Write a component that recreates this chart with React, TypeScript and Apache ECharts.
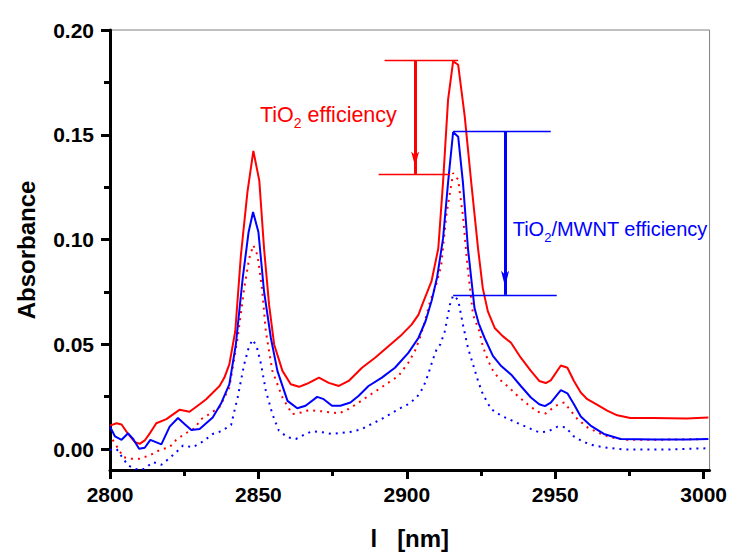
import React, { useEffect, useRef } from 'react';
import * as echarts from 'echarts';

const xMajorTicks = [2800, 2850, 2900, 2950, 3000];
const xMinorTicks = [2825, 2875, 2925, 2975];
const yMajorTicks = [0, 0.05, 0.1, 0.15, 0.2];
const yMinorTicks = [0.025, 0.075, 0.125, 0.175];

const redSolid: [number, number][] = [
  [2800.0, 0.0112], [2802.2, 0.0123], [2803.9, 0.0117], [2806.1, 0.0072], [2808.4, 0.0033],
  [2810.0, 0.0025], [2811.7, 0.0041], [2813.4, 0.0075], [2815.6, 0.0123], [2819.0, 0.0143],
  [2823.5, 0.0188], [2826.8, 0.0178], [2830.2, 0.0214], [2832.4, 0.0238], [2836.9, 0.0301],
  [2838.5, 0.034], [2840.2, 0.0404], [2842.2, 0.0562], [2844.1, 0.0925], [2846.3, 0.1226],
  [2848.3, 0.1423], [2850.3, 0.1281], [2851.9, 0.0957], [2853.6, 0.0688], [2855.3, 0.0499],
  [2858.1, 0.0373], [2860.9, 0.0309], [2863.7, 0.0297], [2865.9, 0.0309], [2867.0, 0.0316],
  [2870.4, 0.0341], [2873.7, 0.0316], [2877.1, 0.0301], [2880.4, 0.0325], [2884.9, 0.0388],
  [2889.3, 0.0436], [2893.8, 0.0491], [2898.3, 0.0546], [2901.6, 0.0594], [2903.9, 0.0640],
  [2905.5, 0.0700], [2908.3, 0.0800], [2910.6, 0.0957], [2912.2, 0.1273], [2913.9, 0.1668],
  [2915.6, 0.185], [2917.3, 0.1834], [2919.5, 0.1589], [2921.7, 0.1273], [2924.0, 0.0957],
  [2925.6, 0.0767], [2927.3, 0.0657], [2929.6, 0.0578], [2932.3, 0.0539], [2935.1, 0.0507],
  [2938.4, 0.0436], [2941.8, 0.0373], [2944.6, 0.0325], [2946.8, 0.0315], [2948.5, 0.0328],
  [2951.9, 0.0399], [2954.1, 0.0388], [2956.3, 0.0325], [2958.6, 0.027], [2960.8, 0.0238],
  [2964.2, 0.0211], [2967.5, 0.0183], [2970.9, 0.0161], [2975.3, 0.0148], [2983.0, 0.0148],
  [2994.3, 0.0146], [3001.6, 0.0151],
];

const blueSolid: [number, number][] = [
  [2800.0, 0.0107], [2801.7, 0.006], [2803.9, 0.0044], [2806.1, 0.0075], [2807.8, 0.0048],
  [2809.8, 0.0001], [2811.7, 0.0006], [2813.6, 0.0044], [2817.3, 0.0022], [2820.1, 0.0107],
  [2822.9, 0.0148], [2825.1, 0.012], [2827.4, 0.0091], [2830.2, 0.0096], [2834.6, 0.0151],
  [2837.5, 0.022], [2840.2, 0.0309], [2842.4, 0.0499], [2844.7, 0.0815], [2846.7, 0.1036],
  [2848.2, 0.1131], [2850.0, 0.1036], [2851.9, 0.0752], [2854.2, 0.053], [2856.4, 0.0373],
  [2859.8, 0.023], [2863.1, 0.0195], [2865.9, 0.0207], [2869.8, 0.0249], [2872.0, 0.0238],
  [2874.8, 0.0207], [2877.6, 0.0207], [2881.0, 0.0222], [2883.8, 0.0254], [2887.1, 0.0301],
  [2891.6, 0.0341], [2896.0, 0.0388], [2900.5, 0.0459], [2903.9, 0.053], [2906.3, 0.061],
  [2908.4, 0.071], [2910.2, 0.082], [2912.2, 0.1004], [2913.9, 0.1273], [2915.6, 0.1513],
  [2917.3, 0.1491], [2918.9, 0.1273], [2920.6, 0.0957], [2922.8, 0.0673], [2924.2, 0.06],
  [2926.2, 0.053], [2929.0, 0.0445], [2931.8, 0.0396], [2935.1, 0.0356], [2938.4, 0.0301],
  [2941.8, 0.0246], [2944.6, 0.0214], [2946.5, 0.0205], [2948.5, 0.0222], [2951.9, 0.0281],
  [2954.1, 0.0266], [2956.3, 0.0214], [2958.6, 0.0155], [2961.9, 0.0112], [2966.4, 0.0072],
  [2972.0, 0.0048], [2983.2, 0.0045], [2994.3, 0.0045], [3001.6, 0.0048],
];

const redDotted: [number, number][] = [
  [2800.9, 0.0044], [2802.8, 0.0001], [2804.5, -0.0038], [2806.7, -0.0046], [2810.0, -0.0046],
  [2813.4, -0.003], [2816.8, -0.0004], [2820.1, 0.0009], [2822.3, 0.0044], [2825.1, 0.0072],
  [2828.5, 0.0099], [2830.7, 0.0143], [2833.5, 0.0167], [2836.9, 0.02], [2840.2, 0.0293],
  [2843.0, 0.053], [2845.2, 0.0767], [2846.9, 0.091], [2848.3, 0.0973], [2849.7, 0.0925],
  [2851.2, 0.0767], [2852.5, 0.0562], [2854.7, 0.0373], [2858.1, 0.0246], [2861.4, 0.0167],
  [2864.8, 0.0175], [2867.0, 0.0186], [2871.5, 0.018], [2877.1, 0.017], [2880.4, 0.0191],
  [2883.8, 0.0222], [2887.1, 0.0254], [2890.5, 0.0285], [2893.8, 0.0317], [2897.2, 0.0349],
  [2900.5, 0.0412], [2902.7, 0.0467], [2904.4, 0.053], [2906.1, 0.061], [2907.8, 0.0704],
  [2910.0, 0.079], [2911.6, 0.0878], [2913.3, 0.1115], [2915.6, 0.1317], [2917.3, 0.1286],
  [2918.9, 0.1115], [2920.4, 0.0878], [2922.3, 0.0641], [2924.5, 0.056], [2925.6, 0.049],
  [2927.3, 0.0425], [2929.0, 0.0375], [2931.2, 0.0333], [2934.5, 0.0293], [2937.3, 0.0254],
  [2940.7, 0.0214], [2944.0, 0.0178], [2946.8, 0.017], [2950.2, 0.0207], [2953.0, 0.0222],
  [2955.2, 0.0183], [2957.5, 0.0143], [2960.8, 0.0104], [2964.2, 0.008], [2968.6, 0.0056],
  [2974.2, 0.0044], [2983.0, 0.0044], [3001.6, 0.0048],
];

const blueDotted: [number, number][] = [
  [2800.0, -0.0004], [2802.2, 0.0001], [2803.9, -0.0035], [2806.1, -0.0078], [2808.6, -0.0096],
  [2811.5, -0.0095], [2814.5, -0.0062], [2817.3, -0.0075], [2820.1, -0.0043], [2822.9, -0.0007],
  [2824.6, 0.0017], [2827.9, 0.0009], [2831.3, 0.0036], [2834.6, 0.0072], [2837.4, 0.0085],
  [2840.8, 0.0115], [2843.0, 0.0246], [2845.2, 0.0404], [2846.7, 0.0483], [2848.0, 0.0522],
  [2849.4, 0.0491], [2850.9, 0.0404], [2852.5, 0.0278], [2854.7, 0.0167], [2856.9, 0.0088],
  [2859.8, 0.0056], [2862.6, 0.0048], [2865.9, 0.0072], [2868.1, 0.0085], [2871.5, 0.008],
  [2874.8, 0.0072], [2878.2, 0.0077], [2881.6, 0.0083], [2884.9, 0.0096], [2888.2, 0.012],
  [2891.0, 0.014], [2894.4, 0.0167], [2897.2, 0.0191], [2900.5, 0.0214], [2903.3, 0.0246],
  [2905.5, 0.0293], [2907.2, 0.0357], [2908.8, 0.0428], [2910.0, 0.0475], [2911.3, 0.05],
  [2912.8, 0.0562], [2914.5, 0.0688], [2915.6, 0.0733], [2917.3, 0.0712], [2918.9, 0.0594],
  [2920.6, 0.0483], [2922.3, 0.0404], [2924.0, 0.0325], [2925.6, 0.0262], [2928.4, 0.0191],
  [2931.8, 0.0159], [2935.1, 0.0138], [2938.4, 0.0117], [2941.8, 0.0096], [2944.6, 0.008],
  [2947.4, 0.0083], [2950.8, 0.0107], [2953.5, 0.0104], [2956.3, 0.006], [2959.7, 0.0033],
  [2963.0, 0.0017], [2967.5, 0.0006], [2973.1, -0.0002], [2989.0, -0.0002], [3001.6, 0.0004],
];

// annotation: [x, yTop, yBottom] and horizontal lines [xFrom, xTo, y]
const redArrow = [2902.8, 0.1854, 0.1313];
const redTopLine = [2892.5, 2917.3, 0.1854];
const redBottomLine = [2890.5, 2914.6, 0.1313];
const blueArrow = [2933.1, 0.1515, 0.0736];
const blueTopLine = [2915.6, 2948.5, 0.1515];
const blueBottomLine = [2915.6, 2950.5, 0.0736];

const FONT = '"Liberation Sans", Arial, Helvetica, sans-serif';
const RED = '#ff0000';
const BLUE = '#0000ff';

function measure(text: string, font: string, fallback: number): number {
  try {
    const c = document.createElement('canvas');
    const ctx = c.getContext('2d');
    if (!ctx) return fallback;
    ctx.font = font;
    return ctx.measureText(text).width;
  } catch (e) {
    return fallback;
  }
}

function subLabel(x: number, mainY: number, subY: number, size: number, subSize: number, rest: string, color: string) {
  const mainFont = `${size}px ${FONT}`;
  const subFont = `${subSize}px ${FONT}`;
  const w1 = measure('TiO', mainFont, 1.611 * size);
  const w2 = measure('2', subFont, 0.556 * subSize);
  return [
    { type: 'text', x, y: mainY, silent: true, style: { text: 'TiO', font: mainFont, fill: color, verticalAlign: 'middle', align: 'left' } },
    { type: 'text', x: x + w1, y: subY, silent: true, style: { text: '2', font: subFont, fill: color, verticalAlign: 'middle', align: 'left' } },
    { type: 'text', x: x + w1 + w2, y: mainY, silent: true, style: { text: rest, font: mainFont, fill: color, verticalAlign: 'middle', align: 'left' } },
  ];
}

export default function App() {
  const ref = useRef<HTMLDivElement>(null);

  useEffect(() => {
    document.body.style.margin = '0';
    if (!ref.current) return;
    const chart = echarts.init(ref.current, undefined, { renderer: 'svg' });

    const axisTextStyle = { fontSize: 21, fontWeight: 'bold', color: '#000', fontFamily: FONT };
    const nameStyle = { fontSize: 24, fontWeight: 'bold', color: '#000', fontFamily: FONT };

    const hLine = (l: number[]) => [
      { coord: [l[0], l[2]] },
      { coord: [l[1], l[2]] },
    ];

    const option: any = {
      animation: false,
      backgroundColor: '#ffffff',
      grid: {
        left: 110, right: 17, top: 30, bottom: 82,
        show: true, borderColor: '#808080', borderWidth: 1, backgroundColor: 'transparent',
      },
      xAxis: [
        {
          type: 'value', min: 2800, max: 3002, position: 'bottom',
          axisLine: { show: true, onZero: false, lineStyle: { color: '#000', width: 3 } },
          axisTick: { show: true, customValues: xMajorTicks, length: 9, lineStyle: { color: '#000', width: 3 } },
          axisLabel: { show: true, customValues: xMajorTicks, margin: 14, ...axisTextStyle, formatter: (v: number) => String(Math.round(v)) },
          splitLine: { show: false },
          name: 'l   [nm]', nameLocation: 'middle', nameGap: 56, nameTextStyle: nameStyle,
        },
        {
          type: 'value', min: 2800, max: 3002, position: 'bottom',
          axisLine: { show: false, onZero: false },
          axisTick: { show: true, customValues: xMinorTicks, length: 6, lineStyle: { color: '#000', width: 3 } },
          axisLabel: { show: false },
          splitLine: { show: false },
        },
      ],
      yAxis: [
        {
          type: 'value', min: -0.01, max: 0.2, position: 'left',
          axisLine: { show: true, onZero: false, lineStyle: { color: '#000', width: 3 } },
          axisTick: { show: true, customValues: yMajorTicks, length: 9, lineStyle: { color: '#000', width: 3 } },
          axisLabel: { show: true, customValues: yMajorTicks, margin: 16, ...axisTextStyle, formatter: (v: number) => v.toFixed(2) },
          splitLine: { show: false },
          name: 'Absorbance', nameLocation: 'middle', nameGap: 72, nameTextStyle: nameStyle,
        },
        {
          type: 'value', min: -0.01, max: 0.2, position: 'left',
          axisLine: { show: false, onZero: false },
          axisTick: { show: true, customValues: yMinorTicks, length: 6, lineStyle: { color: '#000', width: 3 } },
          axisLabel: { show: false },
          splitLine: { show: false },
        },
      ],
      series: [
        {
          type: 'line', name: 'TiO2 dotted', data: redDotted, symbol: 'none', z: 2,
          lineStyle: { color: RED, width: 2, type: [2, 5] }, itemStyle: { color: RED },
          markLine: {
            silent: true, animation: false, symbol: 'none', label: { show: false },
            lineStyle: { color: RED, width: 1.3, type: 'solid' },
            data: [hLine(redTopLine), hLine(redBottomLine)],
          },
        },
        {
          type: 'line', name: 'TiO2/MWNT dotted', data: blueDotted, symbol: 'none', z: 2,
          lineStyle: { color: BLUE, width: 2, type: [2, 5] }, itemStyle: { color: BLUE },
          markLine: {
            silent: true, animation: false, symbol: 'none', label: { show: false },
            lineStyle: { color: BLUE, width: 1.3, type: 'solid' },
            data: [hLine(blueTopLine), hLine(blueBottomLine)],
          },
        },
        {
          type: 'line', name: 'TiO2', data: redSolid, symbol: 'none', z: 3,
          lineStyle: { color: RED, width: 2 }, itemStyle: { color: RED },
          markLine: {
            silent: true, animation: false, symbol: ['none', 'arrow'], symbolSize: [6, 15],
            symbolOffset: [0, [0, '50%']], label: { show: false },
            lineStyle: { color: RED, width: 3, type: 'solid' },
            data: [[{ coord: [redArrow[0], redArrow[1]] }, { coord: [redArrow[0], redArrow[2]] }]],
          },
        },
        {
          type: 'line', name: 'TiO2/MWNT', data: blueSolid, symbol: 'none', z: 3,
          lineStyle: { color: BLUE, width: 2 }, itemStyle: { color: BLUE },
          markLine: {
            silent: true, animation: false, symbol: ['none', 'arrow'], symbolSize: [6, 16],
            symbolOffset: [0, [0, '50%']], label: { show: false },
            lineStyle: { color: BLUE, width: 3, type: 'solid' },
            data: [[{ coord: [blueArrow[0], blueArrow[1]] }, { coord: [blueArrow[0], blueArrow[2]] }]],
          },
        },
      ],
      graphic: [
        ...subLabel(260, 114.5, 122.7, 21.5, 14, ' efficiency', RED),
        ...subLabel(512.7, 228.8, 237, 20, 13, '/MWNT efficiency', BLUE),
      ],
    };

    chart.setOption(option);
    return () => chart.dispose();
  }, []);

  return <div ref={ref} style={{ width: 730, height: 555 }} />;
}
